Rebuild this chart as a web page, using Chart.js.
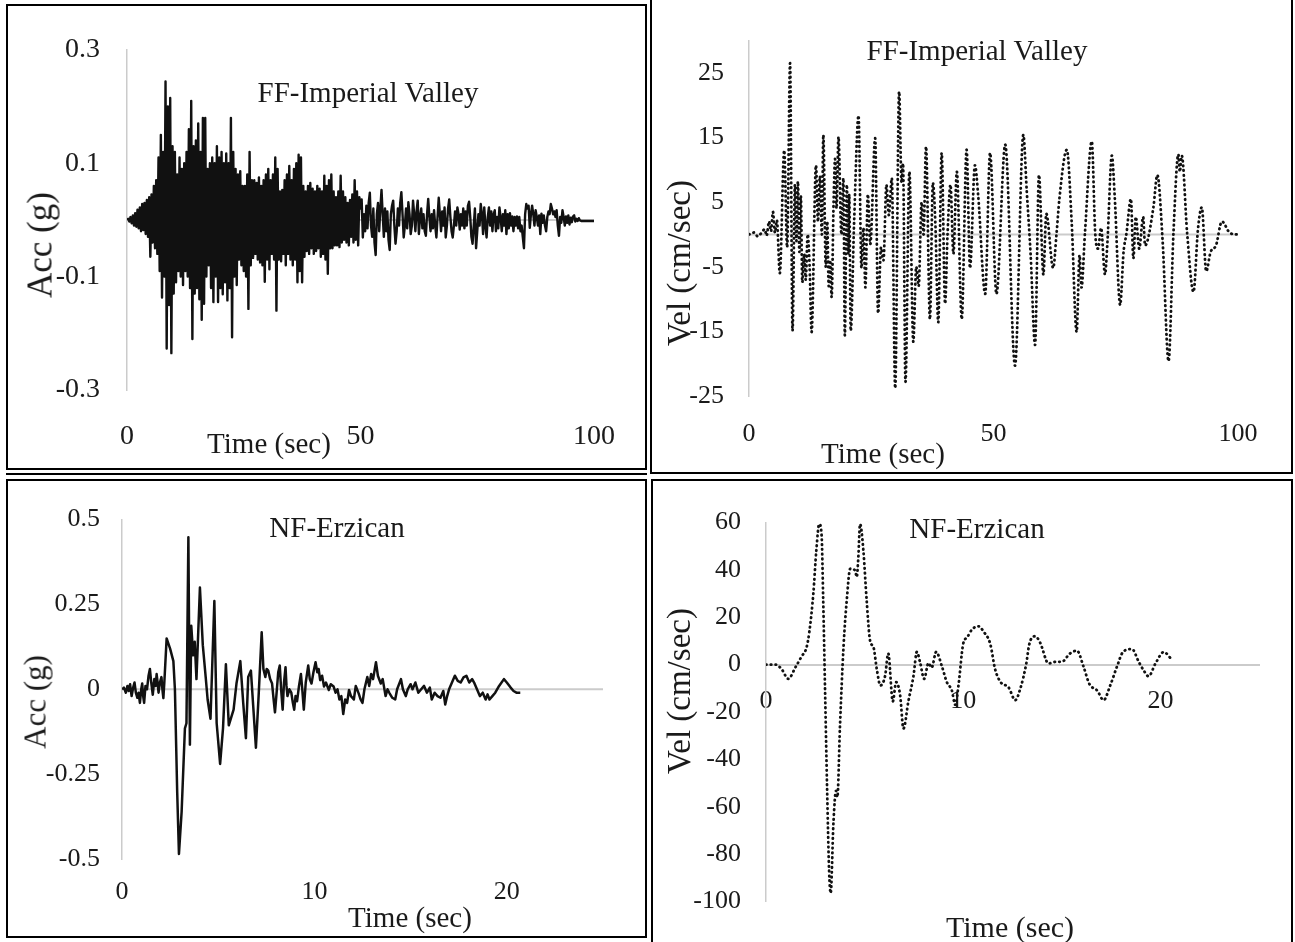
<!DOCTYPE html>
<html>
<head>
<meta charset="utf-8">
<script src="https://cdn.jsdelivr.net/npm/chart.js@4.4.1/dist/chart.umd.min.js"></script>
<style>
html,body{margin:0;padding:0;background:#fff;}
body{width:1295px;height:942px;position:relative;overflow:hidden;font-family:'Liberation Serif','Times New Roman',serif;color:#1a1a1a;}
.box{position:absolute;box-sizing:border-box;border:2px solid #000;}
.rule{position:absolute;background:#000;}
canvas{position:absolute;}
.lbl{position:absolute;white-space:nowrap;transform:translate(-50%,-50%);line-height:1;}
.rot{transform:translate(-50%,-50%) rotate(-90deg);}
</style>
</head>
<body>
<div class="box" style="left:6px;top:4px;width:641px;height:466px"></div>
<div class="rule" style="left:6px;top:473px;width:641px;height:2px"></div>
<div class="box" style="left:650px;top:-2px;width:643px;height:476px"></div>
<div class="box" style="left:6px;top:479px;width:641px;height:459px"></div>
<div class="box" style="left:651px;top:479px;width:642px;height:470px"></div>

<canvas id="impAccChart" width="637" height="462" style="left:8px;top:6px"></canvas>
<canvas id="impVelChart" width="639" height="472" style="left:653px;top:0px"></canvas>
<canvas id="erzAccChart" width="637" height="454" style="left:8px;top:482px"></canvas>
<canvas id="erzVelChart" width="637" height="460" style="left:654px;top:482px"></canvas>

<div class="lbl" style="left:368px;top:92px;font-size:29px">FF-Imperial Valley</div>
<div class="lbl" style="left:269px;top:443px;font-size:29px">Time (sec)</div>
<div class="lbl rot" style="left:40px;top:245px;font-size:35px">Acc (g)</div>

<div class="lbl" style="left:977px;top:50px;font-size:29px">FF-Imperial Valley</div>
<div class="lbl" style="left:883px;top:453px;font-size:29px">Time (sec)</div>
<div class="lbl rot" style="left:679px;top:263px;font-size:33px">Vel (cm/sec)</div>

<div class="lbl" style="left:337px;top:527px;font-size:29px">NF-Erzican</div>
<div class="lbl" style="left:410px;top:917px;font-size:29px">Time (sec)</div>
<div class="lbl rot" style="left:35px;top:702px;font-size:31px">Acc (g)</div>

<div class="lbl" style="left:977px;top:528px;font-size:29px">NF-Erzican</div>
<div class="lbl" style="left:1010px;top:927px;font-size:30px">Time (sec)</div>
<div class="lbl rot" style="left:679px;top:691px;font-size:33px">Vel (cm/sec)</div>

<script>
// sampling step of the Imperial Valley accelerogram (sec)
const impAccDt=0.25;
const impAcc=[
  0,0.002,-0.003,0.005,-0.006,0.008,-0.01,0.012,-0.012,0.018,-0.015,0.022,-0.02,0.028,-0.018,0.03,-0.025,0.035,-0.03,0.04,
  -0.065,0.045,-0.04,0.06,-0.05,0.07,-0.06,0.11,-0.09,0.15,-0.137,0.12,-0.1,0.244,-0.227,0.2,-0.15,0.215,-0.235,0.13,
  -0.13,0.12,-0.11,0.08,-0.09,0.11,-0.1,0.09,-0.115,0.1,-0.09,0.12,-0.1,0.16,-0.12,0.21,-0.21,0.13,-0.13,0.14,
  -0.12,0.17,-0.14,0.12,-0.176,0.18,-0.148,0.18,-0.1,0.09,-0.08,0.1,-0.12,0.11,-0.145,0.1,-0.1,0.13,-0.145,0.11,
  -0.12,0.12,-0.131,0.1,-0.11,0.117,-0.142,0.1,-0.12,0.18,-0.207,0.12,-0.1,0.09,-0.115,0.08,-0.07,0.086,-0.08,0.06,
  -0.09,0.06,-0.1,0.08,-0.157,0.12,-0.08,0.07,-0.067,0.07,-0.06,0.065,-0.07,0.075,-0.075,0.06,-0.08,0.07,-0.109,0.08,
  -0.07,0.09,-0.087,0.07,-0.06,0.08,-0.07,0.11,-0.16,0.09,-0.07,0.05,-0.073,0.053,-0.06,0.07,-0.08,0.08,-0.06,0.095,
  -0.07,0.07,-0.08,0.09,-0.07,0.1,-0.11,0.115,-0.09,0.11,-0.11,0.06,-0.065,0.05,-0.055,0.06,-0.06,0.065,-0.05,0.055,
  -0.06,0.05,-0.055,0.06,-0.05,0.055,-0.065,0.05,-0.06,0.078,-0.07,0.06,-0.095,0.07,-0.05,0.08,-0.05,0.05,-0.045,0.04,
  -0.045,0.05,-0.048,0.078,-0.04,0.05,-0.035,0.04,-0.04,0.03,-0.045,0.035,-0.03,0.045,-0.04,0.07,-0.035,0.05,-0.045,0.04,
  0.02,0.036,-0.031,0.01,-0.02,0.025,-0.015,0.03,0.048,-0.01,-0.03,0.02,-0.04,-0.062,0.01,0.03,-0.02,0.02,0.053,0.01,
  -0.03,0.02,-0.02,0.015,-0.035,-0.053,0.01,0.025,0.034,-0.01,-0.042,-0.02,0.02,-0.01,0.03,0.049,0.01,-0.031,-0.01,0.02,
  -0.015,0.031,0.01,-0.025,-0.01,0.034,0.01,-0.02,0.015,0.034,-0.025,0.005,0.02,-0.015,0.01,-0.02,-0.028,0.01,0.037,0.005,
  -0.02,0.01,-0.015,0.017,-0.01,-0.031,0.005,0.039,0.01,-0.02,0.015,-0.01,0.022,-0.031,-0.01,0.02,0.036,0.005,-0.02,-0.031,
  -0.01,0.015,-0.01,0.022,0.01,-0.017,0.01,-0.01,0.02,-0.015,0.015,-0.01,0.025,0.032,0.005,-0.03,-0.042,-0.01,0.02,-0.05,
  -0.02,0.01,-0.01,0.028,0.01,-0.025,0.022,-0.01,-0.031,0.005,0.022,-0.01,0.015,-0.02,0.01,0.017,-0.02,0.005,-0.015,0.022,
  0.005,-0.02,0.01,-0.01,0.017,-0.025,0.01,-0.015,0.012,-0.01,0.006,-0.02,0.005,-0.01,0.006,-0.015,0.005,-0.02,-0.01,-0.03,
  -0.05,0.01,0.028,0.02,0.025,-0.014,0.01,0.025,0.01,-0.01,0.017,0.005,-0.01,0.008,-0.025,0.011,-0.005,0.008,-0.01,-0.02,
  0.005,0.015,0.01,0.028,0.02,0.01,0.015,0.005,0.017,-0.01,-0.028,0.005,-0.005,0.017,0.005,-0.01,0.006,-0.005,0.008,-0.008,
  0.004,-0.004,0.006,0.008,-0.003,0.002,-0.002,0.003,-0.001,-0.002,-0.002,-0.002,-0.002,-0.002,-0.002,-0.002,-0.002,-0.002,-0.002,-0.002,-0.002
];

const impVelTime=[
  0,1,1.8,2.5,3.2,3.6,4.1,4.5,4.9,5.3,
  5.7,6.3,7.2,7.8,8.4,8.9,9.4,9.7,10,10.3,
  10.6,10.9,11.3,11.6,12,12.4,12.8,13.7,14.1,14.5,
  14.9,15.2,15.7,16,16.3,16.6,16.9,17.3,17.6,17.9,
  18.3,18.9,19.3,19.6,20,20.3,20.5,20.8,21.5,22.4,
  23,23.4,23.8,24.3,24.8,25.8,26.4,27,27.5,28.1,
  28.6,29.2,29.9,30.7,31.2,31.5,32,32.8,33.6,34.2,
  34.7,35.3,35.7,36.2,37,37.6,38.1,38.7,39.4,40.1,
  40.6,41.2,41.8,42.5,43.5,44.5,45.2,46.2,46.9,48.3,
  49.3,50.6,52.4,54.4,56.1,56.8,57.6,58.5,59.3,60.2,
  60.8,62.2,62.9,63.5,65,66,67,67.6,68,68.7,
  70.1,70.8,71.4,72,72.8,73.3,74.2,74.8,75.9,76.6,
  77.2,78.1,78.6,79.1,79.8,80.6,81,82.7,83.5,84.6,
  85.8,86.8,87.8,88.1,88.5,89.6,90.9,91.8,92.6,93.5,
  94.4,95.5,96.7,98.4,100
];
const impVel=[
  0,0.3,-0.3,0.2,0.8,-0.2,2,0.5,3.5,0.3,
  2.2,-6,13,-2,26.5,-14.9,7.7,-1,8.2,-2.7,
  6,-7.4,-3,-7,0,-5,-15.1,10.7,2,9,
  0,15.4,-5,2,-8,-4,-9.7,5,11.7,4,
  15.1,0,8.7,-15.6,7.7,-3,6.2,-14.9,2,18.4,
  -5.2,1,-8.2,6.2,-1.5,14.9,-12.2,-2,-4,7.7,
  3,8.7,-23.8,22.1,8,11,-22.8,9.7,-16.6,-5,
  -8,5,0,13.6,-13.1,8,2,-13.6,12.6,-10.7,
  0,7.7,-3,9.7,-13.1,13.1,-5.2,10.7,5.7,-9.2,
  12.6,-9.2,13.9,-20.3,15.4,6.7,-3.2,-17.1,9.2,-6.2,
  3.2,-5.2,0.2,5.7,13.1,1.7,-15.1,-3.2,-8.2,0.2,
  14.4,0.2,-2.2,1,-6.2,-1.2,12.2,5.7,-10.9,-2.7,
  0.2,5.5,-3.7,2.7,-2.2,2.7,-1.7,4.2,9.2,-1.2,
  -19.6,0.2,12.4,9.7,12.2,0.2,-8.9,0.7,4.2,-5.7,
  -2.7,-1.7,2,0.2,0
];

const erzAccTime=[
  0,0.1,0.2,0.28,0.35,0.42,0.5,0.58,0.65,0.72,
  0.8,0.86,0.93,1,1.05,1.1,1.15,1.22,1.3,1.38,
  1.45,1.52,1.6,1.68,1.75,1.8,1.85,1.9,1.97,2.05,
  2.1,2.15,2.2,2.32,2.5,2.67,2.75,2.87,2.96,3.1,
  3.27,3.35,3.45,3.53,3.6,3.7,3.78,3.87,4.05,4.2,
  4.35,4.45,4.6,4.8,4.92,5.1,5.25,5.4,5.55,5.8,
  5.95,6.15,6.3,6.44,6.56,6.7,6.96,7.1,7.26,7.35,
  7.45,7.52,7.6,7.7,7.8,7.88,7.95,8.05,8.12,8.2,
  8.27,8.35,8.42,8.5,8.55,8.6,8.7,8.8,8.88,8.95,
  9.02,9.1,9.2,9.3,9.37,9.45,9.55,9.68,9.76,9.85,
  9.95,10.06,10.15,10.22,10.3,10.4,10.5,10.6,10.75,10.85,
  11,11.1,11.2,11.3,11.4,11.5,11.6,11.7,11.8,11.9,
  12.05,12.15,12.3,12.4,12.5,12.6,12.75,12.85,12.95,13.05,
  13.2,13.3,13.45,13.55,13.7,13.8,13.9,14.05,14.2,14.3,
  14.5,14.6,14.75,14.85,15,15.1,15.25,15.4,15.55,15.7,
  15.85,16,16.1,16.25,16.4,16.55,16.7,16.8,16.9,17,
  17.15,17.3,17.45,17.6,17.75,17.9,18.05,18.2,18.3,18.45,
  18.6,18.75,18.9,19,19.1,19.25,19.4,19.6,19.85,20,
  20.2,20.35,20.5,20.7
];
const erzAcc=[
  0,0.005,-0.01,0.01,-0.005,0.015,-0.02,0.005,0.02,-0.01,
  -0.025,-0.01,-0.04,0,0.017,-0.02,-0.04,0.01,0,0.04,
  0.06,0.02,-0.016,0.03,0.01,0.045,0.02,-0.01,0.02,0.036,
  0,-0.026,0.02,0.15,0.12,0.083,0,-0.305,-0.485,-0.36,
  -0.115,-0.1,0.448,-0.163,0.187,0.1,0.14,0.03,0.3,0.13,
  0.036,-0.03,-0.087,0.26,-0.1,-0.22,-0.115,0.074,-0.106,-0.06,
  0.017,0.083,-0.04,-0.144,0.036,0.055,-0.172,-0.02,0.168,0.06,
  0.036,0.06,0.055,0.03,0.017,-0.03,-0.068,0,0.05,0.07,
  0,-0.06,0.02,0.065,0.01,-0.02,0,-0.01,-0.04,-0.06,
  -0.02,-0.035,0.01,0.045,0,-0.06,0.02,0.07,0.03,0.017,
  0.05,0.08,0.05,0.06,0.027,0.04,0.008,0.02,-0.002,0.015,
  0.008,-0.01,0,-0.03,-0.02,-0.073,-0.03,-0.04,-0.002,-0.02,
  -0.03,0.01,-0.012,-0.03,-0.04,0,0.036,0.01,0.045,0.03,
  0.08,0.04,0.017,0.03,-0.02,0,-0.011,-0.025,-0.03,0,
  0.03,0,-0.02,0,0.015,0,0.02,-0.01,0,0.01,
  -0.01,0.005,-0.03,-0.01,-0.02,-0.025,-0.005,-0.045,-0.02,0,
  0.02,0.04,0.025,0.02,0.035,0.04,0.02,0.03,0.02,0,
  -0.02,-0.01,-0.03,-0.015,-0.03,-0.02,-0.01,0.01,0.03,0.02,
  0.005,-0.005,-0.01,-0.01
];

const erzVelTime=[
  0,0.5,0.8,1.13,1.5,1.8,2.06,2.2,2.4,2.55,
  2.7,2.82,2.9,3,3.1,3.2,3.28,3.42,3.55,3.62,
  3.75,3.93,4.1,4.27,4.52,4.6,4.68,4.77,4.94,5.1,
  5.28,5.45,5.62,5.8,6.04,6.2,6.43,6.6,6.8,6.97,
  7.22,7.48,7.65,7.82,8.02,8.24,8.4,8.63,8.92,9.17,
  9.42,9.6,9.76,10,10.2,10.44,10.78,11.03,11.37,11.62,
  11.9,12.3,12.64,12.9,13.2,13.35,13.65,13.9,14.33,14.7,
  15,15.4,15.77,16.1,16.4,16.8,17.12,17.45,17.8,18.1,
  18.56,18.9,19.15,19.4,19.75,20.17,20.6
];
const erzVel=[
  0,0,-2,-6,-1,3.4,7.4,14,30,48,
  59.4,54.6,27.7,-12.8,-53,-87,-96.5,-66.8,-53.3,-56,
  -26.3,7.4,27.7,40.5,39.8,37,45,59.4,48,27.7,
  10,7.4,-2,-8.8,-4.7,4.7,-15.5,-7.4,-12.8,-27,
  -15.5,-4.7,5.4,0.7,-6,0.7,-1.3,5.4,-0.7,-7.4,
  -10.8,-17,-8.8,8.8,11.5,14.8,16.2,14,8.8,-2,
  -7.4,-9.6,-15,-10,0.5,8.6,12,9.3,0.5,1.2,
  1.2,4.6,5.9,-0.8,-8.2,-11,-15,-8.9,-0.8,5.3,
  6.6,1.2,-2.4,-4.9,0.5,5.3,1.9
];

const impTimeTicks=[0,50,100];
const erzTimeTicks=[0,10,20];
const impAccTicks=[-0.3,-0.1,0.1,0.3];
const impVelTicks=[-25,-15,-5,5,15,25];
const erzAccTicks=[-0.5,-0.25,0,0.25,0.5];
const erzVelTicks=[-100,-80,-60,-40,-20,0,20,40,60];

const serif="'Liberation Serif','Times New Roman',serif";
const axisGrey='#cbcbcb';

const zeroLine={
  id:'zeroLine',
  beforeDatasetsDraw(chart,args,opts){
    if(!opts.show)return;
    const {ctx,chartArea,scales}=chart;
    const y=scales.y.getPixelForValue(0);
    ctx.save();
    ctx.strokeStyle=axisGrey;
    ctx.lineWidth=2;
    ctx.beginPath();
    ctx.moveTo(chartArea.left,y);
    ctx.lineTo(chartArea.right,y);
    ctx.stroke();
    ctx.restore();
  }
};

const pairs=(xs,ys)=>ys.map((y,i)=>({x:xs[i],y}));
const fixTicks=list=>scale=>{scale.ticks=list.map(value=>({value}));};

const build=(id,o)=>new Chart(document.getElementById(id),{
  type:'line',
  data:{datasets:[{
    data:o.data,
    borderColor:'#111',
    borderWidth:o.lineWidth,
    borderDash:o.dotted?[0.5,4.3]:[],
    borderCapStyle:o.dotted?'round':'butt',
    borderJoinStyle:'round',
    cubicInterpolationMode:o.dotted?'monotone':'default',
    pointRadius:0,
    fill:false
  }]},
  options:{
    responsive:false,
    animation:false,
    events:[],
    layout:{padding:o.padding},
    plugins:{legend:{display:false},tooltip:{enabled:false},zeroLine:{show:!o.xAtZero}},
    scales:{
      x:{
        type:'linear',min:0,max:o.xMax,
        position:o.xAtZero?{y:0}:'bottom',
        afterBuildTicks:fixTicks(o.xTicks),
        afterFit:s=>{s.height=o.xHeight;},
        grid:{display:false,drawTicks:false},
        border:{display:!!o.xAtZero,color:axisGrey,width:2},
        ticks:{padding:o.xPad,font:{family:serif,size:o.font},color:'#1a1a1a',maxRotation:0,autoSkip:false,callback:v=>String(v)}
      },
      y:{
        type:'linear',min:o.yMin,max:o.yMax,
        afterBuildTicks:fixTicks(o.yTicks),
        afterFit:s=>{s.width=o.yWidth;},
        grid:{display:false,drawTicks:false},
        border:{display:true,color:axisGrey,width:1.5},
        ticks:{padding:o.yPad,font:{family:serif,size:o.font},color:'#1a1a1a',autoSkip:false,callback:v=>String(v)}
      }
    }
  },
  plugins:[zeroLine]
});

build('impAccChart',{
  data:impAcc.map((y,i)=>({x:i*impAccDt,y})),lineWidth:2.4,
  xMax:100,yMin:-0.3,yMax:0.3,xTicks:impTimeTicks,yTicks:impAccTicks,
  yWidth:119,xHeight:78,xPad:30,yPad:27,font:28,
  padding:{left:0,right:36,top:26,bottom:0}
});
build('impVelChart',{
  data:pairs(impVelTime,impVel),dotted:true,lineWidth:2.8,
  xMax:100,yMin:-25,yMax:30,xTicks:impTimeTicks,yTicks:impVelTicks,
  yWidth:96,xHeight:76,xPad:23,yPad:25,font:26,
  padding:{left:0,right:54,top:26,bottom:0}
});
build('erzAccChart',{
  data:pairs(erzAccTime,erzAcc),lineWidth:2.5,
  xMax:25,yMin:-0.5,yMax:0.5,xTicks:erzTimeTicks,yTicks:erzAccTicks,
  yWidth:114,xHeight:77,xPad:18,yPad:22,font:26,
  padding:{left:0,right:42,top:25,bottom:0}
});
build('erzVelChart',{
  data:pairs(erzVelTime,erzVel),dotted:true,xAtZero:true,lineWidth:2.8,
  xMax:25,yMin:-100,yMax:60,xTicks:erzTimeTicks,yTicks:erzVelTicks,
  yWidth:112,xHeight:0,xPad:21,yPad:25,font:26,
  padding:{left:0,right:32,top:38,bottom:26}
});
</script>
</body>
</html>
